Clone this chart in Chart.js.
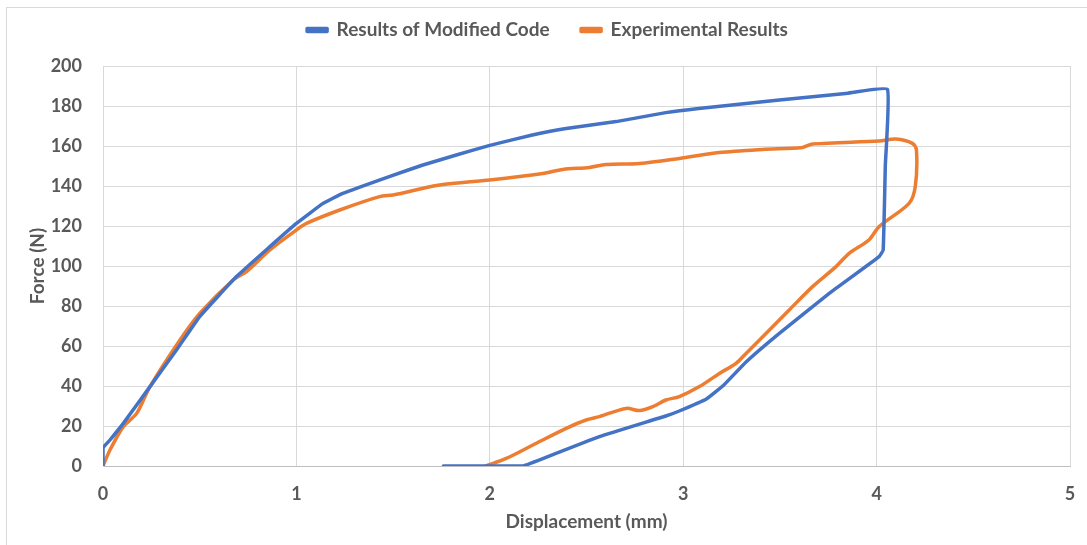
<!DOCTYPE html>
<html>
<head>
<meta charset="utf-8">
<script src="https://cdn.jsdelivr.net/npm/chart.js@4/dist/chart.umd.min.js"></script>
<style>
  body { margin: 0; background: #fff; }
  #frame { position: absolute; left: 6px; top: 7px; width: 1100px; height: 600px; border: 1px solid #d9d9d9; }
  #wrap { position: absolute; left: 0; top: 0; width: 1087px; height: 545px; }
</style>
</head>
<body>
<div id="frame"></div>
<div id="wrap"><canvas id="chart" width="1087" height="545"></canvas></div>
<script>
// Displacement (mm) / Force (N)
const modelX = [0, 0, 0.036, 0.105, 0.243, 0.38, 0.5, 0.69, 0.863, 1.0, 1.138, 1.24, 1.48, 1.654, 1.827, 2.0,
  2.22, 2.395, 2.653, 2.91, 3.08, 3.497, 3.84, 4.056, 4.045, 4.034, 4.013, 3.755, 3.497, 3.325, 3.21, 3.12,
  2.98, 2.91, 2.567, 2.188, 2.17, 1.76];
const modelY = [0, 9, 13, 21.3, 39.7, 58, 74.7, 94.7, 109.7, 121.3, 131.3, 136.3, 144.7, 150.5, 155.5, 160.3,
  165.5, 168.8, 172.2, 176.7, 178.8, 183, 186.3, 188.3, 150, 108, 104.7, 86.3, 66.3, 52, 40.5, 33.5,
  27.5, 25, 14.7, 0.5, 0, 0];

const expX = [0, 0.036, 0.105, 0.174, 0.243, 0.398, 0.5, 0.673, 0.742, 0.863, 1.0, 1.052, 1.224, 1.43, 1.5, 1.74,
  2.0, 2.274, 2.378, 2.515, 2.6, 2.774, 2.98, 3.187, 3.41, 3.617, 3.669, 4.013, 4.1, 4.185, 4.206, 4.2,
  4.168, 4.013, 3.96, 3.858, 3.79, 3.669, 3.548, 3.428, 3.325, 3.273, 3.187, 3.084, 2.98, 2.91, 2.843,
  2.774, 2.705, 2.567, 2.498, 2.395, 2.223, 2.085, 1.98];
const expY = [0, 8, 19.7, 26.3, 39.7, 63, 76.3, 93, 97.2, 108, 118, 121.3, 128, 134.7, 135.5, 140.5,
  143, 146.3, 148.3, 149.3, 150.7, 151.3, 153.8, 156.7, 158.3, 159.3, 161, 162.5, 163.5, 161.3, 158, 139.7,
  131.3, 119.7, 113, 106.3, 99.7, 89.7, 78, 66.3, 56.3, 51.3, 46.3, 39.7, 34.7, 33, 29.7,
  27.7, 28.8, 24.7, 23, 18.8, 10.5, 3.8, 0];

const xTicks = [0, 1, 2, 3, 4, 5];
const yTicks = [0, 20, 40, 60, 80, 100, 120, 140, 160, 180, 200];

const BLUE = '#4472C4';
const ORANGE = '#ED7D31';
const TEXT = '#595959';
const FONT = "Lato, 'Open Sans', sans-serif";

function toPoints(xs, ys) {
  return xs.map((x, i) => ({ x: x, y: ys[i] }));
}

// give the legend a bit more room below it
const legendGap = {
  id: 'legendGap',
  beforeInit(chart) {
    const fit = chart.legend.fit;
    chart.legend.fit = function () {
      fit.bind(chart.legend)();
      this.height += 16.5;
    };
  }
};

new Chart(document.getElementById('chart'), {
  type: 'scatter',
  data: {
    datasets: [
      {
        label: 'Results of Modified Code',
        data: toPoints(modelX, modelY),
        borderColor: BLUE,
        backgroundColor: BLUE,
        tension: 0.1,
      },
      {
        label: 'Experimental Results',
        data: toPoints(expX, expY),
        borderColor: ORANGE,
        backgroundColor: ORANGE,
        tension: 0.3,
      },
    ],
  },
  options: {
    responsive: false,
    animation: false,
    showLine: true,
    elements: {
      point: { radius: 0, hoverRadius: 0 },
      line: { borderWidth: 3.5, fill: false, borderJoinStyle: 'round', borderCapStyle: 'round' },
    },
    layout: { padding: { left: 25, right: 17, top: -11, bottom: 0 } },
    scales: {
      x: {
        type: 'linear',
        min: 0,
        max: 5,
        afterBuildTicks: (scale) => { scale.ticks = xTicks.map(v => ({ value: v })); },
        afterFit: (scale) => {
          scale.height = 79;
          scale.paddingLeft = 0;
          scale.paddingRight = 0;
        },
        grid: { color: '#d9d9d9', lineWidth: 1, drawTicks: false },
        border: { color: '#bfbfbf', width: 1 },
        ticks: { padding: 17, color: TEXT, font: { family: FONT, size: 18, weight: 'bold' } },
        title: {
          display: true,
          text: 'Displacement (mm)',
          color: TEXT,
          font: { family: FONT, size: 19, weight: 'bold' },
          padding: { top: 12, bottom: 12 },
        },
      },
      y: {
        min: 0,
        max: 200,
        afterBuildTicks: (scale) => { scale.ticks = yTicks.map(v => ({ value: v })); },
        afterFit: (scale) => { scale.width = 78; },
        grid: { color: '#d9d9d9', lineWidth: 1, drawTicks: false },
        border: { color: '#d9d9d9', width: 1 },
        ticks: { padding: 21, color: TEXT, font: { family: FONT, size: 18, weight: 'bold' } },
        title: {
          display: true,
          text: 'Force (N)',
          color: TEXT,
          font: { family: FONT, size: 19, weight: 'bold' },
          padding: { top: 1, bottom: 1 },
        },
      },
    },
    plugins: {
      legend: {
        position: 'top',
        labels: {
          boxWidth: 20,
          boxHeight: 3,
          padding: 31.5,
          color: TEXT,
          font: { family: FONT, size: 19, weight: 'bold' },
        },
      },
      tooltip: { enabled: false },
    },
  },
  plugins: [legendGap],
});
</script>
</body>
</html>
